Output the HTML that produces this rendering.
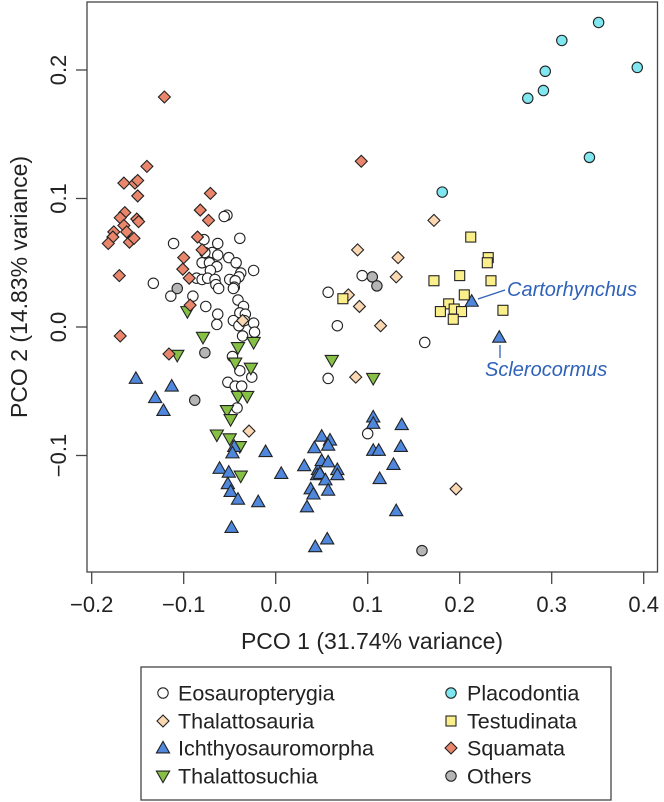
<!DOCTYPE html>
<html><head><meta charset="utf-8"><style>
html,body{margin:0;padding:0;background:#fff;}
svg{display:block;font-family:"Liberation Sans",Arial,sans-serif;}
</style></head><body>
<svg id="chart" width="664" height="802" viewBox="0 0 664 802" xmlns="http://www.w3.org/2000/svg">
<g id="axes"></g><g id="pts"></g><g id="ann"></g><g id="legend"></g>
</svg>
<script>
const xTicks=[-0.2,-0.1,0.0,0.1,0.2,0.3,0.4];
const xTickLabels=["\u22120.2","\u22120.1","0.0","0.1","0.2","0.3","0.4"];
const yTicks=[-0.1,0.0,0.1,0.2];
const yTickLabels=["\u22120.1","0.0","0.1","0.2"];
const eosX=[-0.053,-0.056,-0.039,-0.111,-0.078,-0.063,-0.069,-0.077,-0.051,-0.063,-0.043,-0.080,-0.072,-0.064,-0.071,-0.024,-0.038,-0.040,-0.050,-0.086,-0.080,-0.074,-0.066,-0.044,-0.065,-0.062,-0.045,-0.046,-0.133,-0.114,-0.090,-0.076,-0.041,-0.035,-0.063,-0.064,-0.039,-0.033,-0.046,-0.034,-0.040,-0.024,-0.023,-0.036,-0.047,-0.039,-0.026,-0.052,-0.044,-0.037,-0.042,0.094,0.057,0.067,0.162,0.057,0.100];
const eosY=[0.087,0.086,0.069,0.065,0.068,0.065,0.058,0.058,0.054,0.056,0.050,0.050,0.050,0.047,0.044,0.044,0.042,0.039,0.037,0.038,0.037,0.038,0.037,0.036,0.033,0.030,0.031,0.030,0.034,0.024,0.024,0.016,0.021,0.016,0.010,0.002,0.011,0.010,0.005,0.005,0.001,0.003,-0.004,-0.007,-0.023,-0.034,-0.039,-0.043,-0.046,-0.046,-0.063,0.040,0.027,0.001,-0.012,-0.040,-0.083];
const thsX=[0.172,0.089,0.133,0.131,0.079,0.091,0.114,0.087,0.196,-0.029,-0.036];
const thsY=[0.083,0.060,0.054,0.039,0.025,0.016,0.001,-0.039,-0.126,-0.081,0.005];
const ichX=[-0.152,-0.113,-0.131,-0.122,-0.045,-0.047,-0.011,-0.061,-0.051,0.006,-0.052,-0.049,-0.041,-0.019,-0.048,0.031,0.042,0.046,0.045,0.038,0.041,0.034,0.043,0.050,0.059,0.057,0.050,0.057,0.048,0.067,0.067,0.054,0.057,0.106,0.106,0.137,0.106,0.112,0.136,0.128,0.113,0.131,0.056,0.213,0.243];
const ichY=[-0.040,-0.046,-0.055,-0.065,-0.093,-0.098,-0.097,-0.110,-0.113,-0.114,-0.122,-0.128,-0.134,-0.136,-0.156,-0.108,-0.094,-0.111,-0.115,-0.126,-0.130,-0.140,-0.171,-0.085,-0.088,-0.092,-0.104,-0.105,-0.114,-0.111,-0.115,-0.119,-0.127,-0.070,-0.075,-0.076,-0.096,-0.096,-0.093,-0.107,-0.118,-0.143,-0.165,0.020,-0.008];
const tsuX=[-0.096,-0.079,-0.107,-0.041,-0.024,-0.044,-0.027,-0.041,-0.031,-0.053,-0.049,-0.064,-0.050,-0.039,-0.038,0.061,0.106];
const tsuY=[0.012,-0.008,-0.022,-0.016,-0.012,-0.028,-0.032,-0.054,-0.054,-0.065,-0.072,-0.084,-0.087,-0.093,-0.116,-0.026,-0.040];
const plaX=[0.351,0.311,0.393,0.293,0.291,0.274,0.341,0.181];
const plaY=[0.237,0.223,0.202,0.199,0.184,0.178,0.132,0.105];
const tesX=[0.212,0.231,0.230,0.172,0.200,0.234,0.205,0.073,0.188,0.179,0.194,0.202,0.193,0.247];
const tesY=[0.070,0.054,0.050,0.036,0.040,0.036,0.025,0.022,0.018,0.012,0.014,0.012,0.006,0.013];
const squX=[-0.121,-0.140,-0.165,-0.153,-0.150,-0.150,-0.071,-0.082,-0.073,-0.164,-0.169,-0.151,-0.149,-0.165,-0.176,-0.162,-0.177,-0.159,-0.154,-0.182,-0.085,-0.080,-0.100,-0.101,-0.094,-0.170,-0.093,-0.169,-0.116,0.093];
const squY=[0.179,0.125,0.112,0.112,0.114,0.102,0.104,0.091,0.083,0.089,0.085,0.084,0.082,0.079,0.074,0.074,0.070,0.066,0.069,0.065,0.070,0.060,0.054,0.045,0.038,0.040,0.017,-0.007,-0.021,0.129];
const othX=[-0.107,-0.077,-0.088,0.105,0.110,0.159];
const othY=[0.030,-0.020,-0.057,0.039,0.032,-0.174];

const NS="http://www.w3.org/2000/svg";
const X0=275.7, XS=920, Y0=327, YS=1285;
function sx(v){return X0+v*XS;}
function sy(v){return Y0-v*YS;}
function mk(tag,attrs,parent){const e=document.createElementNS(NS,tag);for(const k in attrs)e.setAttribute(k,attrs[k]);parent.appendChild(e);return e;}
const axes=document.getElementById('axes');
const box=mk('rect',{x:87,y:2,width:570.5,height:570,fill:'none',stroke:'#444','stroke-width':1.3},axes);


xTicks.forEach((t,i)=>{
  const l=mk('line',{x1:sx(t),x2:sx(t),y1:572,y2:584,stroke:'#444','stroke-width':1.3},axes);
  
  
  const tx=mk('text',{x:sx(t),y:612,'text-anchor':'middle','font-size':22,fill:'#222'},axes);
  tx.textContent=xTickLabels[i];
  
  
});
yTicks.forEach((t,i)=>{
  const l=mk('line',{x1:76,x2:87,y1:sy(t),y2:sy(t),stroke:'#444','stroke-width':1.3},axes);
  
  
  const tx=mk('text',{x:0,y:0,'text-anchor':'middle','font-size':22,fill:'#222',transform:`translate(66,${sy(t)}) rotate(-90)`},axes);
  tx.textContent=yTickLabels[i];
  
  
});
const xt=mk('text',{x:372,y:649,'text-anchor':'middle','font-size':23,fill:'#222'},axes);
xt.textContent="PCO 1 (31.74% variance)";


const yt=mk('text',{x:0,y:0,'text-anchor':'middle','font-size':23,fill:'#222',transform:'translate(27,287) rotate(-90)'},axes);
yt.textContent="PCO 2 (14.83% variance)";



function shape(kind,cx,cy,fill,parent,s){
  s=s||1;
  const st={fill:fill,stroke:'#222','stroke-width':1.1};
  let e;
  if(kind==='circle'){e=mk('circle',Object.assign({cx:cx,cy:cy,r:5.2*s},st),parent);}
  else if(kind==='diamond'){const r=6*s;e=mk('polygon',Object.assign({points:`${cx},${cy-r} ${cx+r},${cy} ${cx},${cy+r} ${cx-r},${cy}`},st),parent);}
  else if(kind==='square'){const r=5*s;e=mk('rect',Object.assign({x:cx-r,y:cy-r,width:2*r,height:2*r},st),parent);}
  else if(kind==='up'){const r=6.6*s;e=mk('polygon',Object.assign({points:`${cx},${cy-r} ${cx+r},${cy+r*0.75} ${cx-r},${cy+r*0.75}`},st),parent);}
  else {const r=6.6*s;e=mk('polygon',Object.assign({points:`${cx},${cy+r} ${cx+r},${cy-r*0.75} ${cx-r},${cy-r*0.75}`},st),parent);}
  return e;
}
const pts=document.getElementById('pts');
const series=[
 ['eosauropterygia','circle','#ffffff',eosX,eosY],
 ['thalattosauria','diamond','#fbd8b2',thsX,thsY],
 ['thalattosuchia','down','#86c145',tsuX,tsuY],
 ['ichthyosauromorpha','up','#4f87dd',ichX,ichY],
 ['placodontia','circle','#80e6ef',plaX,plaY],
 ['testudinata','square','#fbef8c',tesX,tesY],
 ['squamata','diamond','#e9866b',squX,squY],
 ['others','circle','#b5b5b5',othX,othY]
];
series.forEach(sr=>{
  const g=mk('g',{},pts);
  
  
  sr[3].forEach((v,i)=>{
    const e=shape(sr[1],sx(v),sy(sr[4][i]),sr[2],g);
    
    
  });
});
const ann=document.getElementById('ann');
mk('line',{x1:478,y1:299,x2:505,y2:290,stroke:'#2f62b8','stroke-width':1.3},ann);
const a1=mk('text',{x:507,y:296,'font-size':20,'font-style':'italic',fill:'#2f62b8'},ann);
a1.textContent="Cartorhynchus";


mk('line',{x1:500,y1:345,x2:500,y2:358,stroke:'#2f62b8','stroke-width':1.3},ann);
const a2=mk('text',{x:485,y:376,'font-size':20,'font-style':'italic',fill:'#2f62b8'},ann);
a2.textContent="Sclerocormus";



const lg=document.getElementById('legend');


mk('rect',{x:141,y:667,width:470,height:133,fill:'#fff',stroke:'#444','stroke-width':1.3},lg);
const legNames=["Eosauropterygia","Thalattosauria","Ichthyosauromorpha","Thalattosuchia","Placodontia","Testudinata","Squamata","Others"];
const legIdx=[0,1,3,2,4,5,6,7];
const rowsY=[693,721,748,776];
legNames.forEach((n,i)=>{
  const sr=series[legIdx[i]];
  const col=i<4?0:1, row=i%4;
  const mx=col?451:163, tx=col?467:178;
  const g=mk('g',{},lg);
  
  
  shape(sr[1],mx,rowsY[row],sr[2],g,1);
  const t=mk('text',{x:tx,y:rowsY[row]+7.5,'font-size':21.5,fill:'#222'},g);
  t.textContent=n;
});
</script>
</body></html>
